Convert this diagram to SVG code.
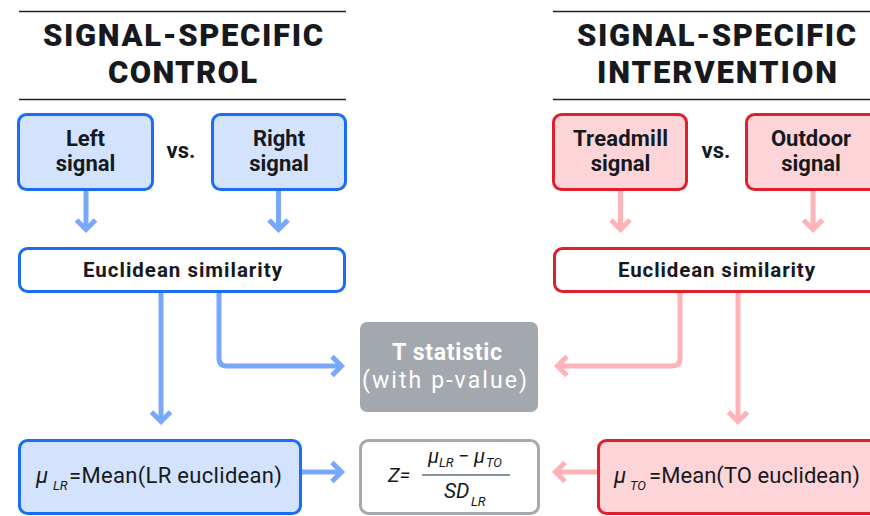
<svg xmlns="http://www.w3.org/2000/svg" width="870" height="516" viewBox="0 0 870 516">
<style>
text{font-family:Roboto,"Liberation Sans",sans-serif;fill:#16191d}
.hd{font-size:31px;font-weight:900;text-anchor:middle}
.bt{font-size:22px;font-weight:700;text-anchor:middle}
.rg{font-size:21px;font-weight:400}
.it{font-style:italic}
.wh{fill:#ffffff}
.hl{stroke:#222;stroke-width:1.6}
.bbox{fill:#d3e3fd;stroke:#1b6ef3;stroke-width:3}
.bwbox{fill:#ffffff;stroke:#1b6ef3;stroke-width:3}
.rbox{fill:#fdd5d8;stroke:#e01f2c;stroke-width:3}
.rwbox{fill:#ffffff;stroke:#e01f2c;stroke-width:3}
.gbox{fill:#a3a8ae}
.zbox{fill:#ffffff;stroke:#a5aaaf;stroke-width:3}
.cb{fill:none;stroke:#79a8fb;stroke-width:5;marker-end:url(#ahB)}
.cr{fill:none;stroke:#ffb2b8;stroke-width:5;marker-end:url(#ahR)}
</style>
<defs>
<marker id="ahB" viewBox="-14 -14 20 28" markerWidth="20" markerHeight="28" refX="0" refY="0" orient="auto" markerUnits="userSpaceOnUse" overflow="visible">
<path d="M-9.5,-9.5 L0,0 L-9.5,9.5" fill="none" stroke="#79a8fb" stroke-width="5" stroke-linejoin="miter"/>
</marker>
<marker id="ahR" viewBox="-14 -14 20 28" markerWidth="20" markerHeight="28" refX="0" refY="0" orient="auto" markerUnits="userSpaceOnUse" overflow="visible">
<path d="M-9.5,-9.5 L0,0 L-9.5,9.5" fill="none" stroke="#ffb2b8" stroke-width="5" stroke-linejoin="miter"/>
</marker>
</defs>

<g id="header-control">
<line class="hl" x1="19" y1="11.5" x2="346" y2="11.5"/>
<line class="hl" x1="19" y1="99.5" x2="346" y2="99.5"/>
<text class="hd" x="183" y="46" textLength="280" lengthAdjust="spacing">SIGNAL-SPECIFIC</text>
<text class="hd" x="182.5" y="83" textLength="149" lengthAdjust="spacing">CONTROL</text>
</g>
<g id="header-intervention">
<line class="hl" x1="553" y1="11.5" x2="870" y2="11.5"/>
<line class="hl" x1="553" y1="99.5" x2="870" y2="99.5"/>
<text class="hd" x="716.5" y="46" textLength="279" lengthAdjust="spacing">SIGNAL-SPECIFIC</text>
<text class="hd" x="717" y="83" textLength="240" lengthAdjust="spacing">INTERVENTION</text>
</g>

<g id="connectors">
<path class="cb" d="M86,191 V229.5"/>
<path class="cb" d="M278.5,191 V229.5"/>
<path class="cb" d="M161,293 V421.5"/>
<path class="cb" d="M219,293 V358 Q219,366 227,366 H341.5"/>
<path class="cb" d="M302,472 H341.5"/>
<path class="cr" d="M620.5,191 V229.5"/>
<path class="cr" d="M813,191 V229.5"/>
<path class="cr" d="M738,293 V421.5"/>
<path class="cr" d="M680,293 V358 Q680,366 672,366 H557.5"/>
<path class="cr" d="M597,472 H555.5"/>
</g>

<g id="left-signal">
<rect class="bbox" x="18.5" y="114.5" width="134" height="75" rx="8"/>
<text class="bt" x="85.5" y="146">Left</text>
<text class="bt" x="85.5" y="171">signal</text>
</g>
<g id="vs-left"><text class="bt" x="181" y="158">vs.</text></g>
<g id="right-signal">
<rect class="bbox" x="212.5" y="114.5" width="133" height="75" rx="8"/>
<text class="bt" x="279" y="146">Right</text>
<text class="bt" x="279" y="171">signal</text>
</g>
<g id="treadmill-signal">
<rect class="rbox" x="553.5" y="114.5" width="133" height="75" rx="8"/>
<text class="bt" x="620.5" y="146" textLength="95" lengthAdjust="spacing">Treadmill</text>
<text class="bt" x="620.5" y="171">signal</text>
</g>
<g id="vs-right"><text class="bt" x="716" y="158">vs.</text></g>
<g id="outdoor-signal">
<rect class="rbox" x="746.5" y="114.5" width="134" height="75" rx="8"/>
<text class="bt" x="811" y="146">Outdoor</text>
<text class="bt" x="811" y="171">signal</text>
</g>

<g id="euclid-control">
<rect class="bwbox" x="19.5" y="248.5" width="325" height="43" rx="8"/>
<text class="bt" x="182.5" y="277" style="font-size:20.5px" textLength="199" lengthAdjust="spacing">Euclidean similarity</text>
</g>
<g id="euclid-intervention">
<rect class="rwbox" x="554.5" y="248.5" width="325" height="43" rx="8"/>
<text class="bt" x="716.5" y="277" style="font-size:20.5px" textLength="197" lengthAdjust="spacing">Euclidean similarity</text>
</g>

<g id="t-statistic">
<rect class="gbox" x="360" y="322" width="178" height="90" rx="7"/>
<text class="bt wh" x="447" y="360" style="font-size:23px" textLength="110" lengthAdjust="spacing">T statistic</text>
<text class="rg wh" x="444.5" y="388" style="font-size:23px;text-anchor:middle" textLength="165" lengthAdjust="spacing">(with p-value)</text>
</g>

<g id="mean-control">
<rect class="bbox" x="19.5" y="440.5" width="281" height="73" rx="8"/>
<text class="rg" y="483"><tspan class="it" x="36" style="font-size:22px">μ</tspan><tspan class="it" x="53" y="490" style="font-size:13px">LR</tspan><tspan x="69" y="483" style="font-size:22px" textLength="213" lengthAdjust="spacing">=Mean(LR euclidean)</tspan></text>
</g>

<g id="z-score">
<rect class="zbox" x="360.5" y="440.5" width="178" height="73" rx="8"/>
<text class="rg it" x="388" y="482" style="font-size:20px">Z=</text>
<line x1="422" y1="475" x2="510" y2="475" stroke="#5f6b7a" stroke-width="1.5"/>
<text class="rg it" y="463" style="font-size:20px"><tspan x="428">μ</tspan><tspan x="439" y="467" style="font-size:13px">LR</tspan><tspan x="458" y="463">−</tspan><tspan x="474">μ</tspan><tspan x="486" y="467" style="font-size:13px">TO</tspan></text>
<text class="rg it" y="498" style="font-size:21px"><tspan x="444">SD</tspan><tspan x="471" y="506" style="font-size:13px">LR</tspan></text>
</g>

<g id="mean-intervention">
<rect class="rbox" x="598.5" y="440.5" width="281" height="73" rx="8"/>
<text class="rg" y="483"><tspan class="it" x="614" style="font-size:22px">μ</tspan><tspan class="it" x="630" y="490" style="font-size:13px">TO</tspan><tspan x="649" y="483" style="font-size:22px" textLength="211" lengthAdjust="spacing">=Mean(TO euclidean)</tspan></text>
</g>
</svg>
